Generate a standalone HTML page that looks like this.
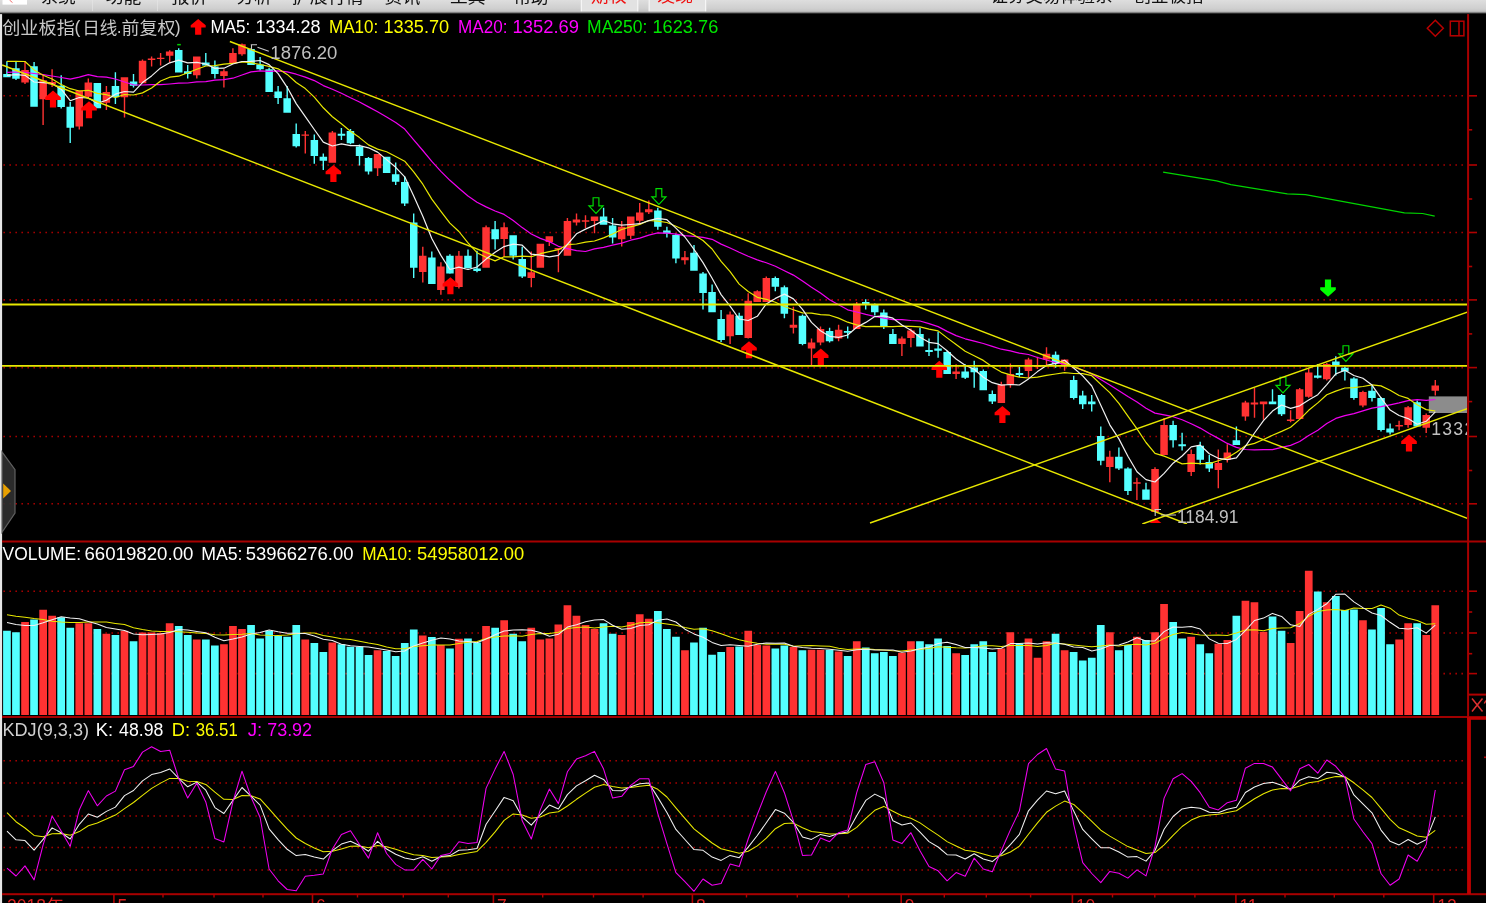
<!DOCTYPE html>
<html><head><meta charset="utf-8"><title>chart</title>
<style>html,body{margin:0;padding:0;background:#000;overflow:hidden}body{width:1486px;height:903px;font-family:"Liberation Sans",sans-serif}svg{display:block;will-change:transform}</style>
</head><body>
<svg width="1486" height="903" viewBox="0 0 1486 903" shape-rendering="geometricPrecision"><rect x="0" y="0" width="1486" height="903" fill="#000"/>
<line x1="3.4" y1="95.8" x2="1464" y2="95.8" stroke="#a40000" stroke-width="1.6" stroke-dasharray="1.6 4.4"/>
<line x1="3.4" y1="165" x2="1464" y2="165" stroke="#a40000" stroke-width="1.6" stroke-dasharray="1.6 4.4"/>
<line x1="3.4" y1="232.5" x2="1464" y2="232.5" stroke="#a40000" stroke-width="1.6" stroke-dasharray="1.6 4.4"/>
<line x1="3.4" y1="299.9" x2="1464" y2="299.9" stroke="#a40000" stroke-width="1.6" stroke-dasharray="1.6 4.4"/>
<line x1="3.4" y1="367.6" x2="1464" y2="367.6" stroke="#a40000" stroke-width="1.6" stroke-dasharray="1.6 4.4"/>
<line x1="3.4" y1="436.5" x2="1464" y2="436.5" stroke="#a40000" stroke-width="1.6" stroke-dasharray="1.6 4.4"/>
<line x1="3.4" y1="503.8" x2="1464" y2="503.8" stroke="#a40000" stroke-width="1.6" stroke-dasharray="1.6 4.4"/>
<line x1="3.4" y1="591.2" x2="1464" y2="591.2" stroke="#a40000" stroke-width="1.6" stroke-dasharray="1.6 4.4"/>
<line x1="3.4" y1="633" x2="1464" y2="633" stroke="#a40000" stroke-width="1.6" stroke-dasharray="1.6 4.4"/>
<line x1="3.4" y1="673.6" x2="1464" y2="673.6" stroke="#a40000" stroke-width="1.6" stroke-dasharray="1.6 4.4"/>
<line x1="3.4" y1="760.7" x2="1464" y2="760.7" stroke="#a40000" stroke-width="1.6" stroke-dasharray="1.6 4.4"/>
<line x1="3.4" y1="783" x2="1464" y2="783" stroke="#a40000" stroke-width="1.6" stroke-dasharray="1.6 4.4"/>
<line x1="3.4" y1="816" x2="1464" y2="816" stroke="#a40000" stroke-width="1.6" stroke-dasharray="1.6 4.4"/>
<line x1="3.4" y1="847.5" x2="1464" y2="847.5" stroke="#a40000" stroke-width="1.6" stroke-dasharray="1.6 4.4"/>
<line x1="3.4" y1="870" x2="1464" y2="870" stroke="#a40000" stroke-width="1.6" stroke-dasharray="1.6 4.4"/>
<clipPath id="mc"><rect x="2" y="14" width="1465" height="510"/></clipPath>
<g clip-path="url(#mc)">
<path d="M3.2 74.1h7.5v3.1h-7.5zM6.2 61.3h1.4v15.9h-1.4zM12.2 68.3h7.5v10.4h-7.5zM15.3 61.3h1.4v18.7h-1.4zM30.3 66.2h7.5v40.6h-7.5zM33.4 61.9h1.4v44.9h-1.4zM57.4 85.7h7.5v21.3h-7.5zM60.5 75.3h1.4v33.2h-1.4zM66.5 106.8h7.5v20.9h-7.5zM69.5 102h1.4v41h-1.4zM93.6 82.9h7.5v25.3h-7.5zM96.6 82.9h1.4v25.3h-1.4zM111.7 86h7.5v11.3h-7.5zM114.7 72.3h1.4v31.7h-1.4zM129.8 81.4h7.5v4.3h-7.5zM132.8 74.1h1.4v13.4h-1.4zM175 50h7.5v22.6h-7.5zM178 48.2h1.4v24.4h-1.4zM184 71.2h7.5v2.7h-7.5zM187 65h1.4v13.6h-1.4zM202.1 62.4h7.5v3h-7.5zM205.1 53h1.4v12.8h-1.4zM211.1 66.5h7.5v7.4h-7.5zM214.2 60.4h1.4v18.2h-1.4zM247.3 48.9h7.5v16h-7.5zM250.3 48.2h1.4v16.7h-1.4zM256.3 64.5h7.5v4.7h-7.5zM259.4 57h1.4v13.5h-1.4zM265.4 69.2h7.5v22.7h-7.5zM268.4 67.8h1.4v24.1h-1.4zM274.4 91.5h7.5v6.5h-7.5zM277.4 86.1h1.4v17.9h-1.4zM283.4 98.2h7.5v14.5h-7.5zM286.5 86.1h1.4v26.6h-1.4zM292.5 134h7.5v12.2h-7.5zM295.5 123.6h1.4v24h-1.4zM310.6 140.1h7.5v16h-7.5zM313.6 134.5h1.4v29.3h-1.4zM319.6 156.8h7.5v4h-7.5zM322.6 153.4h1.4v16.6h-1.4zM337.7 133.8h7.5v2h-7.5zM340.7 128h1.4v12.1h-1.4zM346.7 131h7.5v12.2h-7.5zM349.8 129h1.4v15.3h-1.4zM355.8 146.6h7.5v9.5h-7.5zM358.8 144.6h1.4v20.9h-1.4zM364.8 158.1h7.5v13.5h-7.5zM367.8 157h1.4v17.6h-1.4zM382.9 156.8h7.5v16.2h-7.5zM385.9 156.8h1.4v16.2h-1.4zM391.9 174.3h7.5v7.5h-7.5zM395 162.4h1.4v22.7h-1.4zM401 182h7.5v21.4h-7.5zM404 176.4h1.4v29.7h-1.4zM410 222.4h7.5v45.3h-7.5zM413 213.6h1.4v64.5h-1.4zM428.1 257.6h7.5v26.3h-7.5zM431.1 251.5h1.4v32.4h-1.4zM446.2 255.8h7.5v17.7h-7.5zM449.2 254.2h1.4v19.6h-1.4zM464.2 255.8h7.5v12.3h-7.5zM467.3 249.5h1.4v18.9h-1.4zM473.3 268.5h7.5v2.5h-7.5zM476.3 250.8h1.4v21.4h-1.4zM491.4 229.2h7.5v10.1h-7.5zM494.4 221.1h1.4v28.4h-1.4zM509.4 235.3h7.5v20.5h-7.5zM512.5 235.3h1.4v24.3h-1.4zM518.5 258.9h7.5v17.6h-7.5zM521.5 246.8h1.4v31.3h-1.4zM599.8 216.6h7.5v8.1h-7.5zM602.9 207.8h1.4v16.9h-1.4zM608.9 225.4h7.5v12.2h-7.5zM611.9 218h1.4v25.6h-1.4zM654.1 210.5h7.5v16.3h-7.5zM657.1 207.8h1.4v21.9h-1.4zM663.1 230.5h7.5v3h-7.5zM666.2 226.8h1.4v10.8h-1.4zM672.2 234.9h7.5v23.6h-7.5zM675.2 233.5h1.4v29.7h-1.4zM690.2 252.7h7.5v18h-7.5zM693.3 245h1.4v25.7h-1.4zM699.3 273.5h7.5v19.5h-7.5zM702.3 272h1.4v37.5h-1.4zM708.3 291.9h7.5v20.3h-7.5zM711.4 284.4h1.4v27.8h-1.4zM717.4 318.9h7.5v21h-7.5zM720.4 310.1h1.4v31.8h-1.4zM735.4 315.8h7.5v19.3h-7.5zM738.5 312.8h1.4v22.3h-1.4zM771.6 278h7.5v8.8h-7.5zM774.6 276.4h1.4v14.8h-1.4zM780.6 287.2h7.5v26.6h-7.5zM783.7 285.4h1.4v32.8h-1.4zM798.7 315.8h7.5v28.1h-7.5zM801.8 314.5h1.4v30.8h-1.4zM825.8 331.1h7.5v10.1h-7.5zM828.9 327.7h1.4v14.9h-1.4zM843.9 331.1h7.5v1.6h-7.5zM847 326.4h1.4v12.1h-1.4zM862 302h7.5v2.5h-7.5zM865 299.3h1.4v10.2h-1.4zM871 304.9h7.5v7.4h-7.5zM874.1 303.5h1.4v11.9h-1.4zM880.1 312.5h7.5v13.9h-7.5zM883.1 309.5h1.4v19.5h-1.4zM889.1 334h7.5v9.9h-7.5zM892.2 329h1.4v14.9h-1.4zM916.2 334h7.5v12.6h-7.5zM919.3 327.7h1.4v18.9h-1.4zM925.3 350h7.5v2h-7.5zM928.3 338.5h1.4v17.6h-1.4zM934.3 348.6h7.5v2.1h-7.5zM937.4 331.8h1.4v26h-1.4zM943.4 352h7.5v22h-7.5zM946.4 351h1.4v23h-1.4zM961.4 371.6h7.5v6.1h-7.5zM964.5 364.2h1.4v14.8h-1.4zM970.5 367.6h7.5v4.7h-7.5zM973.5 360.8h1.4v27h-1.4zM979.5 370.9h7.5v19.4h-7.5zM982.6 369.6h1.4v20.7h-1.4zM988.6 393.9h7.5v7.5h-7.5zM991.6 390.5h1.4v13.5h-1.4zM1015.7 373h7.5v2h-7.5zM1018.7 366.9h1.4v10.1h-1.4zM1051.8 354.7h7.5v9.2h-7.5zM1054.9 351.6h1.4v16.2h-1.4zM1069.9 380.1h7.5v18h-7.5zM1073 375.8h1.4v23.7h-1.4zM1079 395.4h7.5v8.8h-7.5zM1082 390.7h1.4v18.2h-1.4zM1088 401.5h7.5v2.7h-7.5zM1091 395.1h1.4v16.5h-1.4zM1097 436h7.5v24.7h-7.5zM1100.1 426.6h1.4v38.7h-1.4zM1115.1 456.8h7.5v11.6h-7.5zM1118.2 447.6h1.4v22.4h-1.4zM1124.2 468.6h7.5v22.4h-7.5zM1127.2 467.3h1.4v27.7h-1.4zM1142.2 489.6h7.5v10.1h-7.5zM1145.3 482.8h1.4v16.9h-1.4zM1169.4 425.1h7.5v15.1h-7.5zM1172.4 420.7h1.4v26.9h-1.4zM1178.4 444.2h7.5v2h-7.5zM1181.4 432.7h1.4v17.9h-1.4zM1196.5 445.8h7.5v14h-7.5zM1199.5 441.8h1.4v22.8h-1.4zM1205.5 461.9h7.5v6.7h-7.5zM1208.6 454.9h1.4v17.1h-1.4zM1232.6 440.2h7.5v4.7h-7.5zM1235.7 426.6h1.4v18.3h-1.4zM1268.8 401.5h7.5v2.7h-7.5zM1271.8 389.3h1.4v14.9h-1.4zM1277.8 395.1h7.5v19.2h-7.5zM1280.9 394h1.4v22h-1.4zM1314 375.4h7.5v2.4h-7.5zM1317 364h1.4v14.5h-1.4zM1332.1 361.6h7.5v4.4h-7.5zM1335.1 356.2h1.4v19.2h-1.4zM1341.1 367.7h7.5v3.7h-7.5zM1344.2 366.4h1.4v14.1h-1.4zM1350.2 378.5h7.5v19.6h-7.5zM1353.2 377.2h1.4v22.5h-1.4zM1368.2 390.7h7.5v7.4h-7.5zM1371.3 385.9h1.4v15.6h-1.4zM1377.3 398.1h7.5v31.8h-7.5zM1380.3 397h1.4v34.6h-1.4zM1386.3 428.5h7.5v4.1h-7.5zM1389.4 423.5h1.4v11.1h-1.4zM1413.4 402.2h7.5v24.3h-7.5zM1416.5 400.6h1.4v26.2h-1.4z" fill="#54ffff"/>
<path d="M21.3 69.9h7.5v12.7h-7.5zM24.3 61.3h1.4v22.8h-1.4zM39.4 80.2h7.5v19.1h-7.5zM42.4 75.3h1.4v49.6h-1.4zM48.4 82h7.5v2.5h-7.5zM51.4 69.2h1.4v17.7h-1.4zM75.5 90.6h7.5v35.9h-7.5zM78.6 90.6h1.4v39h-1.4zM84.6 82.6h7.5v14.1h-7.5zM87.6 78.4h1.4v19.5h-1.4zM102.6 92.1h7.5v10.6h-7.5zM105.7 86h1.4v24h-1.4zM120.7 77.2h7.5v20.1h-7.5zM123.8 77.2h1.4v40.2h-1.4zM138.8 60.7h7.5v22.6h-7.5zM141.8 59.5h1.4v23.8h-1.4zM147.8 58.4h7.5v1.6h-7.5zM150.9 56.4h1.4v10.1h-1.4zM156.9 57.7h7.5v1.3h-7.5zM159.9 53h1.4v12.4h-1.4zM165.9 51.6h7.5v4.1h-7.5zM169 50.3h1.4v12.1h-1.4zM193 56.4h7.5v18.9h-7.5zM196.1 56.4h1.4v22.2h-1.4zM220.2 71.2h7.5v4.8h-7.5zM223.2 69.2h1.4v18.2h-1.4zM229.2 53h7.5v10.1h-7.5zM232.2 48.2h1.4v14.9h-1.4zM238.2 44.2h7.5v10.1h-7.5zM241.3 43.5h1.4v12.2h-1.4zM301.5 134.5h7.5v1.3h-7.5zM304.6 131h1.4v22.4h-1.4zM328.6 132.4h7.5v30.4h-7.5zM331.7 131h1.4v31.8h-1.4zM373.8 154h7.5v14.2h-7.5zM376.9 154h1.4v22h-1.4zM419 255.8h7.5v16.2h-7.5zM422.1 246.8h1.4v35.8h-1.4zM437.1 266.4h7.5v23.6h-7.5zM440.2 262.3h1.4v32.4h-1.4zM455.2 255.8h7.5v31.2h-7.5zM458.2 251.1h1.4v37.5h-1.4zM482.3 227.2h7.5v40.5h-7.5zM485.4 225.4h1.4v42.3h-1.4zM500.4 227.2h7.5v11.7h-7.5zM503.4 222.4h1.4v34.5h-1.4zM527.5 272.2h7.5v5.9h-7.5zM530.6 251.5h1.4v35.8h-1.4zM536.6 243.8h7.5v23.9h-7.5zM539.6 243.8h1.4v23.9h-1.4zM545.6 236.2h7.5v5.8h-7.5zM548.6 236.2h1.4v9.9h-1.4zM554.6 248.1h7.5v1.5h-7.5zM557.7 248.1h1.4v24.1h-1.4zM563.7 221.1h7.5v34.7h-7.5zM566.7 218.1h1.4v37.7h-1.4zM572.7 219.6h7.5v2.9h-7.5zM575.8 213.5h1.4v12.1h-1.4zM581.8 220.3h7.5v1.4h-7.5zM584.8 215.2h1.4v12.9h-1.4zM590.8 216.6h7.5v4.5h-7.5zM593.8 216.6h1.4v16.6h-1.4zM617.9 226.8h7.5v12.4h-7.5zM621 221.1h1.4v25.3h-1.4zM627 216.6h7.5v19.2h-7.5zM630 216.6h1.4v22.3h-1.4zM636 212.6h7.5v8.1h-7.5zM639 203.1h1.4v20.3h-1.4zM645 209.2h7.5v3h-7.5zM648.1 200.4h1.4v13.5h-1.4zM681.2 257.2h7.5v3.1h-7.5zM684.2 251.1h1.4v13.5h-1.4zM726.4 314.6h7.5v21.6h-7.5zM729.4 311.5h1.4v32.4h-1.4zM744.5 300.7h7.5v37.4h-7.5zM747.5 293.2h1.4v45.3h-1.4zM753.5 291.2h7.5v10.8h-7.5zM756.6 290.3h1.4v11.7h-1.4zM762.6 278h7.5v24h-7.5zM765.6 276.6h1.4v25.4h-1.4zM789.7 324.7h7.5v3h-7.5zM792.7 306.8h1.4v26.7h-1.4zM807.8 342.6h7.5v6h-7.5zM810.8 338.5h1.4v27.5h-1.4zM816.8 329h7.5v13.6h-7.5zM819.8 326.4h1.4v18.9h-1.4zM834.9 329.7h7.5v8.8h-7.5zM837.9 324.7h1.4v16.5h-1.4zM853 303.8h7.5v25.2h-7.5zM856 302h1.4v27h-1.4zM898.2 338.5h7.5v5.4h-7.5zM901.2 336.5h1.4v19.6h-1.4zM907.2 330.4h7.5v7.7h-7.5zM910.2 328.4h1.4v18.9h-1.4zM952.4 371.6h7.5v2.4h-7.5zM955.4 364.2h1.4v14.8h-1.4zM997.6 384.5h7.5v18.5h-7.5zM1000.6 381.8h1.4v21.2h-1.4zM1006.6 374h7.5v10.5h-7.5zM1009.7 363.5h1.4v24.3h-1.4zM1024.7 359.5h7.5v11.4h-7.5zM1027.8 357.8h1.4v19.9h-1.4zM1033.8 364.9h7.5v2h-7.5zM1036.8 356.8h1.4v12.1h-1.4zM1042.8 353.8h7.5v5.7h-7.5zM1045.8 347.3h1.4v18.9h-1.4zM1060.9 359.5h7.5v5.3h-7.5zM1063.9 359.5h1.4v11.2h-1.4zM1106.1 456.8h7.5v10.2h-7.5zM1109.1 450.8h1.4v31.4h-1.4zM1133.2 482.2h7.5v1.6h-7.5zM1136.2 477.8h1.4v22.2h-1.4zM1151.3 468.9h7.5v43h-7.5zM1154.3 467.3h1.4v44.6h-1.4zM1160.3 425.1h7.5v29.8h-7.5zM1163.4 418h1.4v36.9h-1.4zM1187.4 454h7.5v18h-7.5zM1190.5 449.5h1.4v26.6h-1.4zM1214.6 463h7.5v7h-7.5zM1217.6 449.5h1.4v38.7h-1.4zM1223.6 452.5h7.5v7.3h-7.5zM1226.6 444.2h1.4v18.4h-1.4zM1241.7 402.4h7.5v14h-7.5zM1244.7 400.8h1.4v20h-1.4zM1250.7 402.4h7.5v2.1h-7.5zM1253.8 388h1.4v29.7h-1.4zM1259.8 401.5h7.5v2.7h-7.5zM1262.8 401.5h1.4v18.2h-1.4zM1286.9 419.5h7.5v1.5h-7.5zM1289.9 410.3h1.4v11.9h-1.4zM1295.9 389.3h7.5v29.7h-7.5zM1299 388h1.4v31h-1.4zM1305 372.4h7.5v24.4h-7.5zM1308 368.4h1.4v29.4h-1.4zM1323 364h7.5v15.2h-7.5zM1326.1 363h1.4v17.5h-1.4zM1359.2 392h7.5v13.5h-7.5zM1362.2 390.7h1.4v16.6h-1.4zM1395.4 424.9h7.5v1.6h-7.5zM1398.4 420.8h1.4v9.5h-1.4zM1404.4 407.3h7.5v17.8h-7.5zM1407.4 406h1.4v21.8h-1.4zM1422.5 415h7.5v12.8h-7.5zM1425.5 413.6h1.4v19.4h-1.4zM1431.5 385.6h7.5v5.2h-7.5zM1434.6 380.1h1.4v15.3h-1.4z" fill="#ff3232"/>
</g>
<path d="M53 90.6L60.8 97.2v2.7H56.1V107.6H49.9V99.9H45.2v-2.7z" fill="#ff0000"/>
<path d="M89 101.3L96.8 107.9v2.7H92.1V118.3H85.9V110.6H81.2v-2.7z" fill="#ff0000"/>
<path d="M333.4 164.9L341.1 171.5v2.7H336.5V181.9H330.3V174.2H325.6v-2.7z" fill="#ff0000"/>
<path d="M450.4 277.2L458.1 283.8v2.7H453.5V294.2H447.3V286.5H442.6v-2.7z" fill="#ff0000"/>
<path d="M749 341.2L756.8 347.8v2.7H752.1V358.2H745.9V350.5H741.2v-2.7z" fill="#ff0000"/>
<path d="M820.8 348.6L828.5 355.2v2.7H823.9V365.6H817.7V357.9H813v-2.7z" fill="#ff0000"/>
<path d="M939.3 360.8L947 367.4v2.7H942.4V377.8H936.2V370.1H931.5v-2.7z" fill="#ff0000"/>
<path d="M1002.4 406L1010.1 412.6v2.7H1005.5V423H999.3V415.3H994.6v-2.7z" fill="#ff0000"/>
<path d="M1409 434.6L1416.8 441.2v2.7H1412.1V451.6H1405.9V443.9H1401.2v-2.7z" fill="#ff0000"/>
<clipPath id="c128"><rect x="1140" y="500" width="40" height="23"/></clipPath>
<g clip-path="url(#c128)">
<path d="M1155.4 518L1163.2 524.6v2.7H1158.5V535H1152.3V527.3H1147.7v-2.7z" fill="#ff0000"/>
</g>
<path d="M593.1 197.7H598.9V205.9H603.1L596 213.5L588.9 205.9H593.1z" fill="none" stroke="#00e000" stroke-width="1.15"/>
<path d="M656 188.6H661.8V196.8H666L658.9 204.4L651.8 196.8H656z" fill="none" stroke="#00e000" stroke-width="1.15"/>
<path d="M1280.1 377.2H1285.9V385.4H1290.1L1283 393L1275.9 385.4H1280.1z" fill="none" stroke="#00e000" stroke-width="1.15"/>
<path d="M1343 345.7H1348.8V353.9H1353L1345.9 361.5L1338.8 353.9H1343z" fill="none" stroke="#00e000" stroke-width="1.15"/>
<path d="M1324.9 279.6H1331.1V287.2H1335.8v2.6L1328 296.8L1320.2 289.8v-2.6H1324.9z" fill="#00ff00"/>
<rect x="177.2" y="43.9" width="3.6" height="1.5" fill="#00d000"/>
<g clip-path="url(#mc)">
<rect x="1428.8" y="396.4" width="38.4" height="16.6" fill="#8c8c8c"/>
<rect x="1430.4" y="416" width="36.8" height="22" fill="#000"/>
<path d="M7 72.4 L16 72 L25 72.3 L34.1 73.5 L43.1 74.7 L52.1 76 L61.2 77.5 L70.2 79.2 L79.3 77.2 L88.3 74.7 L97.3 76.6 L106.4 77.2 L115.4 79 L124.5 82 L133.5 84.8 L142.5 85 L151.6 84.7 L160.6 84.7 L169.7 84 L178.7 83.2 L187.7 83 L196.8 81.9 L205.8 81.7 L214.9 80.1 L223.9 79.6 L232.9 78.2 L242 75 L251 71.9 L260.1 70.8 L269.1 71.3 L278.1 70.8 L287.2 71.8 L296.2 74.2 L305.3 77.1 L314.3 80.6 L323.3 85.6 L332.4 89.3 L341.4 93.2 L350.5 97.8 L359.5 102 L368.5 106.9 L377.6 111.8 L386.6 117.1 L395.7 122.5 L404.7 129.1 L413.7 139.9 L422.8 150.5 L431.8 161.4 L440.9 171.3 L449.9 180.3 L458.9 188.2 L468 196 L477 202.2 L486.1 206.9 L495.1 211 L504.1 214.4 L513.2 220.5 L522.2 227.6 L531.3 234 L540.3 238.4 L549.4 241.6 L558.4 246.3 L567.4 248.7 L576.5 250.6 L585.5 251.5 L594.5 248.9 L603.6 247.4 L612.6 245.1 L621.7 243.1 L630.7 240.2 L639.8 238.1 L648.8 235.1 L657.8 232.9 L666.9 233.2 L675.9 234.2 L684.9 235.7 L694 236.4 L703 237.3 L712.1 239.3 L721.1 244.1 L730.1 248 L739.2 252.3 L748.2 256.3 L757.3 259.9 L766.3 262.8 L775.4 266.3 L784.4 270.7 L793.4 275.1 L802.5 280.9 L811.5 287.2 L820.5 293.1 L829.6 299.7 L838.6 304.8 L847.7 309.8 L856.7 312 L865.8 314.4 L874.8 316.5 L883.8 318.2 L892.9 319.7 L901.9 319.7 L910.9 320.5 L920 321 L929 323.6 L938.1 326.6 L947.1 331.4 L956.1 335.6 L965.2 338.8 L974.2 341.2 L983.3 343.5 L992.3 346.4 L1001.3 349.2 L1010.4 350.9 L1019.4 353.1 L1028.5 354.5 L1037.5 357.5 L1046.5 360 L1055.6 362.6 L1064.6 364.2 L1073.7 366.9 L1082.7 370.2 L1091.8 373.9 L1100.8 379.6 L1109.8 384.9 L1118.9 390.7 L1127.9 396.6 L1137 402.1 L1146 408.2 L1155 413.1 L1164.1 414.8 L1173.1 416.7 L1182.1 419.8 L1191.2 423.8 L1200.2 428.1 L1209.3 433.5 L1218.3 438.4 L1227.3 443.4 L1236.4 447.4 L1245.4 449.5 L1254.5 449.8 L1263.5 449.6 L1272.5 449.6 L1281.6 447.3 L1290.6 445.4 L1299.7 441.5 L1308.7 435.6 L1317.8 430.3 L1326.8 423.6 L1335.8 418.4 L1344.9 415.7 L1353.9 413.6 L1362.9 410.9 L1372 408.1 L1381 406.6 L1390.1 404.8 L1399.1 402.9 L1408.1 400.6 L1417.2 399.7 L1426.2 400.4 L1435.3 399.5" fill="none" stroke="#f000f0" stroke-width="1.2" stroke-linejoin="round" />
<path d="M7 61.3 L16 61.3 L25 61.5 L34.1 69.9 L43.1 75.3 L52.1 79 L61.2 84.5 L70.2 88.7 L79.3 91 L88.3 90.3 L97.3 93.4 L106.4 94.7 L115.4 97.5 L124.5 94.5 L133.5 95 L142.5 92.9 L151.6 88 L160.6 81 L169.7 77.2 L178.7 76.2 L187.7 72.7 L196.8 69.2 L205.8 66 L214.9 65.6 L223.9 64.2 L232.9 63.4 L242 62 L251 62.7 L260.1 64.5 L269.1 66.4 L278.1 68.8 L287.2 74.4 L296.2 82.5 L305.3 88.6 L314.3 97.1 L323.3 107.8 L332.4 116.7 L341.4 123.8 L350.5 131.2 L359.5 137.6 L368.5 144.9 L377.6 149.1 L386.6 151.8 L395.7 156.5 L404.7 161.2 L413.7 171.9 L422.8 184.2 L431.8 199.1 L440.9 211.4 L449.9 223.1 L458.9 231.5 L468 242.9 L477 252.7 L486.1 257.3 L495.1 260.9 L504.1 256.8 L513.2 256.8 L522.2 256.1 L531.3 256.7 L540.3 253.7 L549.4 251.7 L558.4 249.7 L567.4 244.7 L576.5 244 L585.5 242.1 L594.5 241 L603.6 237.9 L612.6 234 L621.7 229.5 L630.7 226.8 L639.8 224.4 L648.8 220.5 L657.8 221.1 L666.9 222.5 L675.9 226.3 L684.9 230.3 L694 234.9 L703 240.5 L712.1 249 L721.1 261.4 L730.1 271.6 L739.2 284.1 L748.2 291.5 L757.3 297.3 L766.3 299.3 L775.4 302.2 L784.4 306.5 L793.4 309.7 L802.5 312.9 L811.5 313.1 L820.5 314.6 L829.6 315.2 L838.6 318.1 L847.7 322.2 L856.7 324.8 L865.8 326.6 L874.8 326.4 L883.8 326.6 L892.9 326.6 L901.9 326.2 L910.9 326.3 L920 326.9 L929 329.1 L938.1 330.9 L947.1 337.9 L956.1 344.6 L965.2 351.2 L974.2 355.8 L983.3 360.4 L992.3 366.7 L1001.3 372.1 L1010.4 374.9 L1019.4 377.1 L1028.5 378 L1037.5 377.1 L1046.5 375.3 L1055.6 374 L1064.6 372.7 L1073.7 373.5 L1082.7 373.7 L1091.8 375.7 L1100.8 384.4 L1109.8 392.6 L1118.9 403.4 L1127.9 416.1 L1137 428.9 L1146 442.5 L1155 453.4 L1164.1 456.1 L1173.1 459.7 L1182.1 463.9 L1191.2 463.2 L1200.2 463.6 L1209.3 463.6 L1218.3 460.8 L1227.3 457.8 L1236.4 452.3 L1245.4 445.7 L1254.5 443.4 L1263.5 439.5 L1272.5 435.3 L1281.6 431.4 L1290.6 427.3 L1299.7 419.4 L1308.7 410.3 L1317.8 402.9 L1326.8 394.8 L1335.8 391.1 L1344.9 388 L1353.9 387.7 L1362.9 386.5 L1372 384.9 L1381 385.9 L1390.1 390.2 L1399.1 395.5 L1408.1 398.4 L1417.2 404.7 L1426.2 409.6 L1435.3 411" fill="none" stroke="#e8e800" stroke-width="1.2" stroke-linejoin="round" />
<path d="M7 75.3 L16 74.7 L25 75.3 L34.1 82 L43.1 82.6 L52.1 83.5 L61.2 89.2 L70.2 100.7 L79.3 97.5 L88.3 98 L97.3 103.2 L106.4 100.2 L115.4 94.2 L124.5 91.5 L133.5 92.1 L142.5 82.6 L151.6 75.9 L160.6 67.9 L169.7 62.8 L178.7 60.2 L187.7 62.8 L196.8 62.4 L205.8 64 L214.9 68.4 L223.9 68.2 L232.9 64 L242 61.5 L251 61.4 L260.1 60.5 L269.1 64.6 L278.1 73.6 L287.2 87.3 L296.2 103.6 L305.3 116.7 L314.3 129.5 L323.3 142.1 L332.4 146 L341.4 143.9 L350.5 145.7 L359.5 145.7 L368.5 147.8 L377.6 152.1 L386.6 159.6 L395.7 167.3 L404.7 176.8 L413.7 196 L422.8 216.3 L431.8 238.5 L440.9 255.4 L449.9 269.5 L458.9 267.1 L468 269.5 L477 267 L486.1 259.1 L495.1 252.3 L504.1 246.6 L513.2 244.1 L522.2 245.2 L531.3 254.2 L540.3 255.1 L549.4 256.9 L558.4 255.4 L567.4 244.3 L576.5 233.8 L585.5 229.1 L594.5 225.1 L603.6 220.5 L612.6 223.8 L621.7 225.2 L630.7 224.5 L639.8 223.7 L648.8 220.6 L657.8 218.4 L666.9 219.7 L675.9 228.1 L684.9 237 L694 249.3 L703 262.6 L712.1 278.3 L721.1 294.6 L730.1 306.1 L739.2 319 L748.2 320.5 L757.3 316.3 L766.3 303.9 L775.4 298.4 L784.4 294.1 L793.4 298.9 L802.5 309.4 L811.5 322.4 L820.5 330.8 L829.6 336.3 L838.6 337.3 L847.7 335 L856.7 327.3 L865.8 322.4 L874.8 316.6 L883.8 315.9 L892.9 318.2 L901.9 325.1 L910.9 330.3 L920 337.2 L929 342.3 L938.1 343.6 L947.1 350.7 L956.1 359 L965.2 365.2 L974.2 369.3 L983.3 377.2 L992.3 382.7 L1001.3 385.2 L1010.4 384.5 L1019.4 385 L1028.5 378.9 L1037.5 371.6 L1046.5 365.4 L1055.6 363.4 L1064.6 360.3 L1073.7 368 L1082.7 375.9 L1091.8 386 L1100.8 405.3 L1109.8 424.8 L1118.9 438.9 L1127.9 456.2 L1137 471.8 L1146 479.6 L1155 482 L1164.1 473.4 L1173.1 463.2 L1182.1 456 L1191.2 446.9 L1200.2 445.1 L1209.3 453.8 L1218.3 458.3 L1227.3 459.6 L1236.4 457.8 L1245.4 446.3 L1254.5 433 L1263.5 420.7 L1272.5 411.1 L1281.6 405 L1290.6 408.4 L1299.7 405.8 L1308.7 399.9 L1317.8 394.7 L1326.8 384.6 L1335.8 373.9 L1344.9 370.3 L1353.9 375.5 L1362.9 378.3 L1372 385.1 L1381 397.9 L1390.1 410.1 L1399.1 415.5 L1408.1 418.6 L1417.2 424.2 L1426.2 421.3 L1435.3 411.9" fill="none" stroke="#f0f0f0" stroke-width="1.2" stroke-linejoin="round" />
<path d="M1163.1 172.1 L1216.6 180.8 L1230.8 184.6 L1287.3 193.9 L1305.5 194.7 L1404.4 212.9 L1422.6 213.5 L1434.7 216.1" fill="none" stroke="#00d400" stroke-width="1.25" stroke-linejoin="round" />
<line x1="2" y1="304.5" x2="1467" y2="304.5" stroke="#e8e800" stroke-width="1.8"/>
<line x1="2" y1="365.8" x2="1467" y2="365.8" stroke="#e8e800" stroke-width="1.8"/>
<line x1="229.9" y1="41.5" x2="1467.7" y2="518.5" stroke="#e8e800" stroke-width="1.45"/>
<line x1="2.2" y1="65" x2="1187" y2="524" stroke="#e8e800" stroke-width="1.45"/>
<line x1="870" y1="523" x2="1467.7" y2="312" stroke="#e8e800" stroke-width="1.45"/>
<line x1="1142.3" y1="524" x2="1467.7" y2="408.5" stroke="#e8e800" stroke-width="1.45"/>
</g>
<path d="M3.1 630.8h7.7V715h-7.7zM12.1 632.2h7.7V715h-7.7zM30.2 619.5h7.7V715h-7.7zM57.3 617.3h7.7V715h-7.7zM66.4 627.8h7.7V715h-7.7zM93.5 629.1h7.7V715h-7.7zM111.6 635h7.7V715h-7.7zM129.7 641.3h7.7V715h-7.7zM174.9 626.1h7.7V715h-7.7zM183.9 635h7.7V715h-7.7zM202 639.6h7.7V715h-7.7zM211 645.6h7.7V715h-7.7zM247.2 624.9h7.7V715h-7.7zM256.2 638.4h7.7V715h-7.7zM265.3 630.8h7.7V715h-7.7zM274.3 635.9h7.7V715h-7.7zM283.3 636.7h7.7V715h-7.7zM292.4 624.9h7.7V715h-7.7zM310.5 642.9h7.7V715h-7.7zM319.5 651.9h7.7V715h-7.7zM337.6 644.3h7.7V715h-7.7zM346.6 646.8h7.7V715h-7.7zM355.7 646.8h7.7V715h-7.7zM364.7 654.9h7.7V715h-7.7zM382.8 651h7.7V715h-7.7zM391.8 656.1h7.7V715h-7.7zM400.9 642.9h7.7V715h-7.7zM409.9 629.5h7.7V715h-7.7zM428 637h7.7V715h-7.7zM446.1 648.5h7.7V715h-7.7zM464.1 638.4h7.7V715h-7.7zM473.2 642.6h7.7V715h-7.7zM491.3 627.8h7.7V715h-7.7zM509.3 633.8h7.7V715h-7.7zM518.4 641.3h7.7V715h-7.7zM599.7 623.2h7.7V715h-7.7zM608.8 633.8h7.7V715h-7.7zM654 611.1h7.7V715h-7.7zM663 629.1h7.7V715h-7.7zM672.1 636.7h7.7V715h-7.7zM690.1 642.6h7.7V715h-7.7zM699.2 627.8h7.7V715h-7.7zM708.2 654.7h7.7V715h-7.7zM717.3 651.9h7.7V715h-7.7zM735.3 646.5h7.7V715h-7.7zM771.5 648.5h7.7V715h-7.7zM780.5 645.5h7.7V715h-7.7zM798.6 650.2h7.7V715h-7.7zM825.7 649.7h7.7V715h-7.7zM843.8 656.1h7.7V715h-7.7zM861.9 647.6h7.7V715h-7.7zM870.9 653.2h7.7V715h-7.7zM880 651.9h7.7V715h-7.7zM889 656.1h7.7V715h-7.7zM916.1 641.3h7.7V715h-7.7zM925.2 644.3h7.7V715h-7.7zM934.2 638.4h7.7V715h-7.7zM943.3 646h7.7V715h-7.7zM961.3 654.9h7.7V715h-7.7zM970.4 644.3h7.7V715h-7.7zM979.4 641.3h7.7V715h-7.7zM988.5 651.9h7.7V715h-7.7zM1015.6 643.8h7.7V715h-7.7zM1051.7 633.8h7.7V715h-7.7zM1069.8 651.9h7.7V715h-7.7zM1078.9 660.6h7.7V715h-7.7zM1087.9 657.8h7.7V715h-7.7zM1096.9 624.9h7.7V715h-7.7zM1115 650.2h7.7V715h-7.7zM1124.1 645.1h7.7V715h-7.7zM1142.1 640.1h7.7V715h-7.7zM1169.3 621.9h7.7V715h-7.7zM1178.3 638.4h7.7V715h-7.7zM1196.4 644.3h7.7V715h-7.7zM1205.4 653.2h7.7V715h-7.7zM1232.5 615.7h7.7V715h-7.7zM1268.7 616.5h7.7V715h-7.7zM1277.7 630.8h7.7V715h-7.7zM1313.9 591.6h7.7V715h-7.7zM1332 596h7.7V715h-7.7zM1341 610.1h7.7V715h-7.7zM1350.1 609.4h7.7V715h-7.7zM1368.1 629.5h7.7V715h-7.7zM1377.2 608.1h7.7V715h-7.7zM1386.2 644.3h7.7V715h-7.7zM1413.3 623.2h7.7V715h-7.7z" fill="#54ffff"/>
<path d="M21.2 621.9h7.7V715h-7.7zM39.3 609.8h7.7V715h-7.7zM48.3 615.7h7.7V715h-7.7zM75.4 623.2h7.7V715h-7.7zM84.5 623.2h7.7V715h-7.7zM102.5 633.8h7.7V715h-7.7zM120.6 630.8h7.7V715h-7.7zM138.7 632.5h7.7V715h-7.7zM147.7 632.5h7.7V715h-7.7zM156.8 633h7.7V715h-7.7zM165.8 623.2h7.7V715h-7.7zM192.9 639.6h7.7V715h-7.7zM220.1 644.3h7.7V715h-7.7zM229.1 626.1h7.7V715h-7.7zM238.1 629.1h7.7V715h-7.7zM301.4 639.6h7.7V715h-7.7zM328.5 642.6h7.7V715h-7.7zM373.7 650.2h7.7V715h-7.7zM418.9 635.4h7.7V715h-7.7zM437 645.1h7.7V715h-7.7zM455.1 638.7h7.7V715h-7.7zM482.2 626.1h7.7V715h-7.7zM500.3 620.2h7.7V715h-7.7zM527.4 627.8h7.7V715h-7.7zM536.5 639.6h7.7V715h-7.7zM545.5 638.4h7.7V715h-7.7zM554.5 624.6h7.7V715h-7.7zM563.6 605.2h7.7V715h-7.7zM572.6 615.7h7.7V715h-7.7zM581.7 624.9h7.7V715h-7.7zM590.7 629.1h7.7V715h-7.7zM617.8 635h7.7V715h-7.7zM626.9 621.9h7.7V715h-7.7zM635.9 614.3h7.7V715h-7.7zM644.9 618.7h7.7V715h-7.7zM681.1 650.2h7.7V715h-7.7zM726.3 647.1h7.7V715h-7.7zM744.4 630.8h7.7V715h-7.7zM753.4 645.1h7.7V715h-7.7zM762.5 645.5h7.7V715h-7.7zM789.6 647.1h7.7V715h-7.7zM807.7 649.7h7.7V715h-7.7zM816.7 649.7h7.7V715h-7.7zM834.8 651.5h7.7V715h-7.7zM852.9 641.3h7.7V715h-7.7zM898.1 652.7h7.7V715h-7.7zM907.1 641.3h7.7V715h-7.7zM952.3 653.2h7.7V715h-7.7zM997.5 648.5h7.7V715h-7.7zM1006.5 632.2h7.7V715h-7.7zM1024.6 638.4h7.7V715h-7.7zM1033.7 657.8h7.7V715h-7.7zM1042.7 641.3h7.7V715h-7.7zM1060.8 650.2h7.7V715h-7.7zM1106 632.2h7.7V715h-7.7zM1133.1 636.7h7.7V715h-7.7zM1151.2 632.2h7.7V715h-7.7zM1160.2 603.9h7.7V715h-7.7zM1187.3 636.7h7.7V715h-7.7zM1214.5 643.8h7.7V715h-7.7zM1223.5 640.1h7.7V715h-7.7zM1241.6 600.8h7.7V715h-7.7zM1250.6 602.2h7.7V715h-7.7zM1259.7 631.7h7.7V715h-7.7zM1286.8 642.9h7.7V715h-7.7zM1295.8 611.1h7.7V715h-7.7zM1304.9 570.7h7.7V715h-7.7zM1322.9 602.2h7.7V715h-7.7zM1359.1 620.2h7.7V715h-7.7zM1395.3 639.6h7.7V715h-7.7zM1404.3 623.2h7.7V715h-7.7zM1422.4 635h7.7V715h-7.7zM1431.4 605.2h7.7V715h-7.7z" fill="#ff3232"/>
<path d="M7 614.7 L16 616.2 L25 617.2 L34.1 618.5 L43.1 619.5 L52.1 621.2 L61.2 622 L70.2 622.5 L79.3 622.6 L88.3 622.1 L97.3 622 L106.4 622.1 L115.4 623.4 L124.5 624.6 L133.5 627.7 L142.5 629.4 L151.6 630.9 L160.6 631.4 L169.7 631.4 L178.7 631.7 L187.7 632.3 L196.8 632.9 L205.8 633.4 L214.9 634.8 L223.9 635.1 L232.9 634.5 L242 634.2 L251 633.4 L260.1 634.9 L269.1 635.3 L278.1 635.4 L287.2 635.1 L296.2 633.7 L305.3 633.1 L314.3 632.9 L323.3 635.5 L332.4 636.9 L341.4 638.8 L350.5 639.6 L359.5 641.2 L368.5 643.1 L377.6 644.5 L386.6 647.1 L395.7 648.8 L404.7 648.8 L413.7 646.5 L422.8 645.8 L431.8 645.1 L440.9 644.9 L449.9 645.1 L458.9 643.4 L468 642.3 L477 641.4 L486.1 638.4 L495.1 636.9 L504.1 636 L513.2 635.8 L522.2 636.2 L531.3 634.5 L540.3 633.6 L549.4 633.6 L558.4 632.2 L567.4 628.5 L576.5 627.4 L585.5 627.1 L594.5 628 L603.6 627 L612.6 626.2 L621.7 627 L630.7 625.2 L639.8 622.8 L648.8 622.2 L657.8 622.8 L666.9 624.1 L675.9 625.3 L684.9 627.4 L694 629.3 L703 628.7 L712.1 630.7 L721.1 633.7 L730.1 637 L739.2 639.8 L748.2 641.7 L757.3 643.3 L766.3 644.2 L775.4 644 L784.4 644.3 L793.4 646.3 L802.5 645.8 L811.5 645.6 L820.5 645.9 L829.6 646.2 L838.6 648.2 L847.7 649.4 L856.7 648.9 L865.8 648.8 L874.8 649.6 L883.8 650.1 L892.9 650.7 L901.9 651 L910.9 650.1 L920 649.3 L929 648.6 L938.1 646.8 L947.1 647.3 L956.1 647.8 L965.2 648 L974.2 647.2 L983.3 645.8 L992.3 645.7 L1001.3 646.4 L1010.4 645.5 L1019.4 645.5 L1028.5 645.5 L1037.5 646.6 L1046.5 645.4 L1055.6 643.3 L1064.6 643.9 L1073.7 645 L1082.7 645.9 L1091.8 646.8 L1100.8 646 L1109.8 644.9 L1118.9 646.1 L1127.9 644.8 L1137 644.3 L1146 645 L1155 643.2 L1164.1 638.4 L1173.1 634.5 L1182.1 632.6 L1191.2 633.7 L1200.2 635 L1209.3 635.2 L1218.3 635.1 L1227.3 635.5 L1236.4 633 L1245.4 629.9 L1254.5 629.7 L1263.5 630.7 L1272.5 628.5 L1281.6 627.9 L1290.6 627.8 L1299.7 623.6 L1308.7 616.2 L1317.8 611.4 L1326.8 610 L1335.8 609.6 L1344.9 610.4 L1353.9 608.1 L1362.9 608.5 L1372 608.4 L1381 604.9 L1390.1 608.2 L1399.1 615.1 L1408.1 618.3 L1417.2 620.4 L1426.2 624.3 L1435.3 623.8" fill="none" stroke="#e8e800" stroke-width="1.05" stroke-linejoin="round" />
<path d="M7 622.5 L16 624.5 L25 625.5 L34.1 625.4 L43.1 622.8 L52.1 619.8 L61.2 616.8 L70.2 618 L79.3 618.8 L88.3 621.4 L97.3 624.1 L106.4 627.4 L115.4 628.9 L124.5 630.4 L133.5 634 L142.5 634.7 L151.6 634.4 L160.6 634 L169.7 632.5 L178.7 629.5 L187.7 630 L196.8 631.4 L205.8 632.7 L214.9 637.2 L223.9 640.8 L232.9 639 L242 636.9 L251 634 L260.1 632.6 L269.1 629.9 L278.1 631.8 L287.2 633.3 L296.2 633.3 L305.3 633.6 L314.3 636 L323.3 639.2 L332.4 640.4 L341.4 644.3 L350.5 645.7 L359.5 646.5 L368.5 647.1 L377.6 648.6 L386.6 649.9 L395.7 651.8 L404.7 651 L413.7 645.9 L422.8 643 L431.8 640.2 L440.9 638 L449.9 639.1 L458.9 640.9 L468 641.5 L477 642.7 L486.1 638.9 L495.1 634.7 L504.1 631 L513.2 630.1 L522.2 629.8 L531.3 630.2 L540.3 632.5 L549.4 636.2 L558.4 634.3 L567.4 627.1 L576.5 624.7 L585.5 621.8 L594.5 619.9 L603.6 619.6 L612.6 625.3 L621.7 629.2 L630.7 628.6 L639.8 625.6 L648.8 624.7 L657.8 620.2 L666.9 619 L675.9 622 L684.9 629.2 L694 633.9 L703 637.3 L712.1 642.4 L721.1 645.4 L730.1 644.8 L739.2 645.6 L748.2 646.2 L757.3 644.3 L766.3 643 L775.4 643.3 L784.4 643.1 L793.4 646.3 L802.5 647.4 L811.5 648.2 L820.5 648.4 L829.6 649.3 L838.6 650.2 L847.7 651.3 L856.7 649.7 L865.8 649.2 L874.8 649.9 L883.8 650 L892.9 650 L901.9 652.3 L910.9 651 L920 648.7 L929 647.1 L938.1 643.6 L947.1 642.3 L956.1 644.6 L965.2 647.4 L974.2 647.4 L983.3 647.9 L992.3 649.1 L1001.3 648.2 L1010.4 643.6 L1019.4 643.5 L1028.5 643 L1037.5 644.1 L1046.5 642.7 L1055.6 643 L1064.6 644.3 L1073.7 647 L1082.7 647.6 L1091.8 650.9 L1100.8 649.1 L1109.8 645.5 L1118.9 645.1 L1127.9 642 L1137 637.8 L1146 640.9 L1155 640.9 L1164.1 631.6 L1173.1 627 L1182.1 627.3 L1191.2 626.6 L1200.2 629 L1209.3 638.9 L1218.3 643.3 L1227.3 643.6 L1236.4 639.4 L1245.4 630.7 L1254.5 620.5 L1263.5 618.1 L1272.5 613.4 L1281.6 616.4 L1290.6 624.8 L1299.7 626.6 L1308.7 614.4 L1317.8 609.4 L1326.8 603.7 L1335.8 594.3 L1344.9 594.1 L1353.9 601.9 L1362.9 607.6 L1372 613 L1381 615.5 L1390.1 622.3 L1399.1 628.3 L1408.1 628.9 L1417.2 627.7 L1426.2 633.1 L1435.3 625.2" fill="none" stroke="#f0f0f0" stroke-width="1.05" stroke-linejoin="round" />
<path d="M7 812.6 L16 821.7 L25 828 L34.1 835.4 L43.1 836.7 L52.1 833.8 L61.2 833.4 L70.2 835.3 L79.3 831.6 L88.3 825.7 L97.3 822.9 L106.4 819.1 L115.4 815.1 L124.5 808.6 L133.5 802.5 L142.5 795.3 L151.6 788.4 L160.6 783.1 L169.7 778.4 L178.7 778.4 L187.7 781.2 L196.8 781.5 L205.8 784.4 L214.9 792.2 L223.9 799.3 L232.9 799.6 L242 795.6 L251 795.8 L260.1 798.9 L269.1 808.9 L278.1 819.2 L287.2 829.2 L296.2 838 L305.3 843.5 L314.3 848 L323.3 851.7 L332.4 851.3 L341.4 848.9 L350.5 846.3 L359.5 846.1 L368.5 847.8 L377.6 845.6 L386.6 846.8 L395.7 849.3 L404.7 852.2 L413.7 854.8 L422.8 855.4 L431.8 857.4 L440.9 857.1 L449.9 856.6 L458.9 854.4 L468 852.9 L477 851.4 L486.1 842.4 L495.1 831.9 L504.1 820.4 L513.2 813.9 L522.2 814.9 L531.3 818.3 L540.3 817.1 L549.4 813.1 L558.4 811.7 L567.4 806 L576.5 799.3 L585.5 793.1 L594.5 787.2 L603.6 784.6 L612.6 786.5 L621.7 787.9 L630.7 787.6 L639.8 786.3 L648.8 785.2 L657.8 789.3 L666.9 797 L675.9 807.8 L684.9 818.4 L694 828.8 L703 836 L712.1 843 L721.1 848.8 L730.1 851 L739.2 853.2 L748.2 851.2 L757.3 845.9 L766.3 838.2 L775.4 828.7 L784.4 823.5 L793.4 823.1 L802.5 827.7 L811.5 831.6 L820.5 832.6 L829.6 833.9 L838.6 833.7 L847.7 833.2 L856.7 827.4 L865.8 818.4 L874.8 810.3 L883.8 806.4 L892.9 811.2 L901.9 815.8 L910.9 818.2 L920 822.9 L929 829.1 L938.1 835.1 L947.1 841.6 L956.1 846 L965.2 850.3 L974.2 851.5 L983.3 854 L992.3 856.5 L1001.3 855.7 L1010.4 852 L1019.4 846.1 L1028.5 834.3 L1037.5 822.9 L1046.5 812.3 L1055.6 806.1 L1064.6 801.1 L1073.7 804.4 L1082.7 812.7 L1091.8 821.4 L1100.8 830.2 L1109.8 836.1 L1118.9 841.4 L1127.9 846.6 L1137 849.9 L1146 853.6 L1155 852.6 L1164.1 844.8 L1173.1 835.4 L1182.1 826.5 L1191.2 820.1 L1200.2 816.2 L1209.3 814.9 L1218.3 814.2 L1227.3 812.5 L1236.4 810.8 L1245.4 804.7 L1254.5 798.8 L1263.5 793.8 L1272.5 789.9 L1281.6 788.4 L1290.6 788.7 L1299.7 785.9 L1308.7 782.8 L1317.8 781.4 L1326.8 778.4 L1335.8 776.6 L1344.9 776.7 L1353.9 782.8 L1362.9 789.8 L1372 797.5 L1381 808.3 L1390.1 819.3 L1399.1 827.8 L1408.1 831.7 L1417.2 835.9 L1426.2 837.2 L1435.3 830.4" fill="none" stroke="#e8e800" stroke-width="1.05" stroke-linejoin="round" />
<path d="M7 831.1 L16 839.8 L25 840.6 L34.1 850.2 L43.1 839.4 L52.1 827.9 L61.2 832.7 L70.2 839 L79.3 824.3 L88.3 814 L97.3 817.2 L106.4 811.4 L115.4 807.1 L124.5 795.6 L133.5 790.5 L142.5 780.9 L151.6 774.6 L160.6 772.6 L169.7 769 L178.7 778.4 L187.7 786.8 L196.8 782.1 L205.8 790.2 L214.9 807.6 L223.9 813.5 L232.9 800.4 L242 787.5 L251 796.2 L260.1 805.1 L269.1 828.9 L278.1 839.7 L287.2 849.3 L296.2 855.6 L305.3 854.4 L314.3 857.1 L323.3 859.1 L332.4 850.6 L341.4 844.1 L350.5 841.2 L359.5 845.5 L368.5 851.2 L377.6 841.3 L386.6 849 L395.7 854.3 L404.7 858.1 L413.7 859.8 L422.8 856.7 L431.8 861.2 L440.9 856.5 L449.9 855.6 L458.9 850.2 L468 849.8 L477 848.5 L486.1 824.3 L495.1 811 L504.1 797.4 L513.2 800.7 L522.2 816.9 L531.3 825.2 L540.3 814.7 L549.4 805.1 L558.4 809 L567.4 794.6 L576.5 785.9 L585.5 780.7 L594.5 775.2 L603.6 779.4 L612.6 790.4 L621.7 790.7 L630.7 786.8 L639.8 783.8 L648.8 783 L657.8 797.4 L666.9 812.5 L675.9 829.4 L684.9 839.5 L694 849.6 L703 850.3 L712.1 857.1 L721.1 860.4 L730.1 855.4 L739.2 857.7 L748.2 847.1 L757.3 835.5 L766.3 822.7 L775.4 809.6 L784.4 813.2 L793.4 822.4 L802.5 837 L811.5 839.4 L820.5 834.4 L829.6 836.5 L838.6 833.4 L847.7 832.1 L856.7 815.8 L865.8 800.4 L874.8 794.1 L883.8 798.5 L892.9 820.7 L901.9 825 L910.9 823 L920 832.2 L929 841.6 L938.1 847 L947.1 854.7 L956.1 854.9 L965.2 859 L974.2 853.7 L983.3 859 L992.3 861.6 L1001.3 854.1 L1010.4 844.6 L1019.4 834.4 L1028.5 810.8 L1037.5 800.1 L1046.5 791 L1055.6 793.8 L1064.6 791 L1073.7 811.1 L1082.7 829.4 L1091.8 838.8 L1100.8 847.7 L1109.8 847.8 L1118.9 852 L1127.9 857.1 L1137 856.6 L1146 861.1 L1155 850.5 L1164.1 829.2 L1173.1 816.5 L1182.1 808.9 L1191.2 807.2 L1200.2 808.3 L1209.3 812.3 L1218.3 812.8 L1227.3 809.3 L1236.4 807.3 L1245.4 792.5 L1254.5 787 L1263.5 783.6 L1272.5 782.3 L1281.6 785.3 L1290.6 789.4 L1299.7 780.2 L1308.7 776.7 L1317.8 778.6 L1326.8 772.2 L1335.8 773.2 L1344.9 776.9 L1353.9 794.9 L1362.9 803.8 L1372 812.8 L1381 830.1 L1390.1 841.3 L1399.1 844.9 L1408.1 839.5 L1417.2 844.3 L1426.2 839.6 L1435.3 816.9" fill="none" stroke="#f0f0f0" stroke-width="1.05" stroke-linejoin="round" />
<path d="M7 868.2 L16 876 L25 865.9 L34.1 879.9 L43.1 844.8 L52.1 816.1 L61.2 831.1 L70.2 846.4 L79.3 809.7 L88.3 790.6 L97.3 805.8 L106.4 796 L115.4 791.1 L124.5 769.7 L133.5 766.4 L142.5 752.1 L151.6 746.8 L160.6 751.5 L169.7 750.2 L178.7 778.5 L187.7 798 L196.8 783.3 L205.8 801.9 L214.9 838.6 L223.9 841.9 L232.9 801.9 L242 771.2 L251 797 L260.1 817.5 L269.1 869 L278.1 880.8 L287.2 889.5 L296.2 890.8 L305.3 876.3 L314.3 875.3 L323.3 873.9 L332.4 849 L341.4 834.5 L350.5 830.8 L359.5 844.5 L368.5 858.1 L377.6 832.7 L386.6 853.5 L395.7 864.4 L404.7 869.9 L413.7 869.9 L422.8 859.4 L431.8 869 L440.9 855.4 L449.9 853.5 L458.9 841.7 L468 843.6 L477 842.6 L486.1 788.1 L495.1 769.1 L504.1 751.4 L513.2 774.5 L522.2 820.8 L531.3 839 L540.3 809.9 L549.4 789 L558.4 803.6 L567.4 771.8 L576.5 759.1 L585.5 755.8 L594.5 751.4 L603.6 769.1 L612.6 798.1 L621.7 796.3 L630.7 785.4 L639.8 778.7 L648.8 778.7 L657.8 813.6 L666.9 843.6 L675.9 872.6 L684.9 881.7 L694 891.3 L703 879 L712.1 885.3 L721.1 883.5 L730.1 864.1 L739.2 866.6 L748.2 839 L757.3 814.5 L766.3 791.8 L775.4 771.4 L784.4 792.7 L793.4 820.8 L802.5 855.4 L811.5 855 L820.5 838.1 L829.6 841.7 L838.6 832.7 L847.7 829.9 L856.7 792.7 L865.8 764.5 L874.8 761.8 L883.8 782.7 L892.9 839.9 L901.9 843.6 L910.9 832.7 L920 850.8 L929 866.6 L938.1 870.8 L947.1 880.8 L956.1 872.6 L965.2 876.3 L974.2 858.1 L983.3 869 L992.3 871.7 L1001.3 850.8 L1010.4 829.9 L1019.4 810.9 L1028.5 763.6 L1037.5 754.5 L1046.5 748.5 L1055.6 769.1 L1064.6 770.9 L1073.7 824.5 L1082.7 862.6 L1091.8 873.5 L1100.8 882.6 L1109.8 871.4 L1118.9 873.2 L1127.9 878.1 L1137 869.9 L1146 875.9 L1155 846.3 L1164.1 798.1 L1173.1 778.7 L1182.1 773.6 L1191.2 781.4 L1200.2 792.7 L1209.3 807.2 L1218.3 809.9 L1227.3 802.7 L1236.4 800.3 L1245.4 768.2 L1254.5 763.4 L1263.5 763.4 L1272.5 767.1 L1281.6 779.1 L1290.6 790.9 L1299.7 768.7 L1308.7 764.5 L1317.8 773.1 L1326.8 760 L1335.8 766.3 L1344.9 777.2 L1353.9 819 L1362.9 831.7 L1372 843.6 L1381 873.5 L1390.1 885.3 L1399.1 879 L1408.1 855 L1417.2 861.2 L1426.2 844.5 L1435.3 790" fill="none" stroke="#f000f0" stroke-width="1.05" stroke-linejoin="round" />
<rect x="0" y="12" width="2.1" height="891" fill="#e6e6e6"/>
<rect x="2" y="540.5" width="1484" height="2" fill="#a80000"/>
<rect x="2" y="716" width="1466" height="2" fill="#a00000"/>
<rect x="1467" y="716.2" width="19" height="3.6" fill="#c00000"/>
<rect x="2" y="893.2" width="1484" height="2" fill="#a80000"/>
<rect x="1467.1" y="14" width="2" height="703" fill="#a80000"/>
<rect x="1467.1" y="717" width="3.8" height="177" fill="#c00000"/>
<rect x="1469" y="95" width="8" height="1.6" fill="#b00000"/>
<rect x="1469" y="129" width="3.2" height="1.6" fill="#b00000"/>
<rect x="1469" y="164.2" width="8" height="1.6" fill="#b00000"/>
<rect x="1469" y="198.2" width="3.2" height="1.6" fill="#b00000"/>
<rect x="1469" y="231.7" width="8" height="1.6" fill="#b00000"/>
<rect x="1469" y="265.7" width="3.2" height="1.6" fill="#b00000"/>
<rect x="1469" y="299.1" width="8" height="1.6" fill="#b00000"/>
<rect x="1469" y="333.1" width="3.2" height="1.6" fill="#b00000"/>
<rect x="1469" y="366.8" width="8" height="1.6" fill="#b00000"/>
<rect x="1469" y="400.8" width="3.2" height="1.6" fill="#b00000"/>
<rect x="1469" y="435.7" width="8" height="1.6" fill="#b00000"/>
<rect x="1469" y="469.7" width="3.2" height="1.6" fill="#b00000"/>
<rect x="1469" y="503" width="8" height="1.6" fill="#b00000"/>
<rect x="1469" y="590.4" width="8" height="1.6" fill="#b00000"/>
<rect x="1469" y="611.2" width="3.2" height="1.6" fill="#b00000"/>
<rect x="1469" y="632.2" width="8" height="1.6" fill="#b00000"/>
<rect x="1469" y="652.9" width="3.2" height="1.6" fill="#b00000"/>
<rect x="1469" y="672.8" width="8" height="1.6" fill="#b00000"/>
<rect x="1468" y="693.6" width="18" height="2" fill="#b00000"/>
<path d="M1472 698.5L1482.5 711.5M1482.5 698.5L1472 711.5" stroke="#e03030" stroke-width="1.5" fill="none"/>
<path d="M1484.3 703.5L1486 700.5" stroke="#e03030" stroke-width="1.5" fill="none"/>
<rect x="1484" y="756.5" width="2" height="1.6" fill="#b00000"/>
<rect x="113.1" y="894" width="1.6" height="9" fill="#b00000"/>
<rect x="311.7" y="894" width="1.6" height="9" fill="#b00000"/>
<rect x="492.6" y="894" width="1.6" height="9" fill="#b00000"/>
<rect x="691.6" y="894" width="1.6" height="9" fill="#b00000"/>
<rect x="900.4" y="894" width="1.6" height="9" fill="#b00000"/>
<rect x="1071.6" y="894" width="1.6" height="9" fill="#b00000"/>
<rect x="1235.1" y="894" width="1.6" height="9" fill="#b00000"/>
<rect x="1432.9" y="894" width="1.6" height="9" fill="#b00000"/>
<rect x="162.3" y="894" width="1.4" height="3.5" fill="#b00000"/>
<rect x="213.3" y="894" width="1.4" height="3.5" fill="#b00000"/>
<rect x="262.3" y="894" width="1.4" height="3.5" fill="#b00000"/>
<rect x="356.8" y="894" width="1.4" height="3.5" fill="#b00000"/>
<rect x="402.6" y="894" width="1.4" height="3.5" fill="#b00000"/>
<rect x="447.6" y="894" width="1.4" height="3.5" fill="#b00000"/>
<rect x="542" y="894" width="1.4" height="3.5" fill="#b00000"/>
<rect x="592.8" y="894" width="1.4" height="3.5" fill="#b00000"/>
<rect x="642.4" y="894" width="1.4" height="3.5" fill="#b00000"/>
<rect x="745.8" y="894" width="1.4" height="3.5" fill="#b00000"/>
<rect x="796.6" y="894" width="1.4" height="3.5" fill="#b00000"/>
<rect x="847.9" y="894" width="1.4" height="3.5" fill="#b00000"/>
<rect x="943.6" y="894" width="1.4" height="3.5" fill="#b00000"/>
<rect x="985.6" y="894" width="1.4" height="3.5" fill="#b00000"/>
<rect x="1029.9" y="894" width="1.4" height="3.5" fill="#b00000"/>
<rect x="1111.8" y="894" width="1.4" height="3.5" fill="#b00000"/>
<rect x="1154.1" y="894" width="1.4" height="3.5" fill="#b00000"/>
<rect x="1194.2" y="894" width="1.4" height="3.5" fill="#b00000"/>
<rect x="1284.3" y="894" width="1.4" height="3.5" fill="#b00000"/>
<rect x="1333.6" y="894" width="1.4" height="3.5" fill="#b00000"/>
<rect x="1383.1" y="894" width="1.4" height="3.5" fill="#b00000"/>
<g font-family="Liberation Sans, sans-serif" font-size="17.5" fill="#e02020">
<text x="117.4" y="911.8">5</text>
<text x="316" y="911.8">6</text>
<text x="496.9" y="911.8">7</text>
<text x="695.9" y="911.8">8</text>
<text x="904.7" y="911.8">9</text>
<text x="1075.9" y="911.8">10</text>
<text x="1239.4" y="911.8">11</text>
<text x="1437.2" y="911.8">12</text>
<text x="7" y="911.8">2018</text>
</g>
<text x="46.6" y="911.8" font-family="'Liberation Sans', 'Noto Sans CJK SC', sans-serif" font-size="17.5" fill="#e02020">年</text>
<path d="M1435.3 20.3L1443.3 28.3L1435.3 36.3L1427.3 28.3Z" fill="none" stroke="#b80000" stroke-width="1.5"/>
<rect x="1450.3" y="21.2" width="13.6" height="14.6" fill="none" stroke="#b80000" stroke-width="1.5"/>
<line x1="1459" y1="21" x2="1459" y2="36" stroke="#b80000" stroke-width="1.5"/>
<path d="M2 451.8L15 469.6V513L2 532.4Z" fill="#303030" fill-opacity="0.9" stroke="#606060" stroke-width="1.2"/>
<path d="M3.2 483.5L11 491L3.2 498.5Z" fill="#e8a000"/>
<path d="M250.8 44.7H257M251.5 44.7V50.5M257.5 47.2L268.8 51.2" stroke="#c8c8c8" stroke-width="1.1" fill="none"/>
<path d="M1154.5 509.5H1161M1155.2 509.5V516 M1161 515L1176 515" stroke="#c8c8c8" stroke-width="1.1" fill="none"/>
<g font-family="Liberation Sans, sans-serif" font-size="17.6">
<text x="210.51" y="33.3" textLength="39.64" lengthAdjust="spacingAndGlyphs" fill="#ffffff">MA5:</text>
<text x="255.43" y="33.3" textLength="65.16" lengthAdjust="spacingAndGlyphs" fill="#ffffff">1334.28</text>
<text x="329.00" y="33.3" textLength="49.25" lengthAdjust="spacingAndGlyphs" fill="#ffff00">MA10:</text>
<text x="383.52" y="33.3" textLength="65.69" lengthAdjust="spacingAndGlyphs" fill="#ffff00">1335.70</text>
<text x="458.10" y="33.3" textLength="49.36" lengthAdjust="spacingAndGlyphs" fill="#ff00ff">MA20:</text>
<text x="512.60" y="33.3" textLength="66.47" lengthAdjust="spacingAndGlyphs" fill="#ff00ff">1352.69</text>
<text x="587.06" y="33.3" textLength="60.33" lengthAdjust="spacingAndGlyphs" fill="#00e600">MA250:</text>
<text x="652.51" y="33.3" textLength="65.79" lengthAdjust="spacingAndGlyphs" fill="#00e600">1623.76</text>
<text x="270.39" y="58.5" textLength="66.93" lengthAdjust="spacingAndGlyphs" fill="#c0c0c0">1876.20</text>
<text x="1177.01" y="523.0" textLength="61.42" lengthAdjust="spacingAndGlyphs" fill="#c0c0c0">1184.91</text>
<text x="2.62" y="560.2" textLength="78.37" lengthAdjust="spacingAndGlyphs" fill="#ffffff">VOLUME:</text>
<text x="84.45" y="560.2" textLength="108.98" lengthAdjust="spacingAndGlyphs" fill="#ffffff">66019820.00</text>
<text x="201.25" y="560.2" textLength="41.26" lengthAdjust="spacingAndGlyphs" fill="#ffffff">MA5:</text>
<text x="245.66" y="560.2" textLength="107.76" lengthAdjust="spacingAndGlyphs" fill="#ffffff">53966276.00</text>
<text x="362.19" y="560.2" textLength="49.79" lengthAdjust="spacingAndGlyphs" fill="#ffff00">MA10:</text>
<text x="416.97" y="560.2" textLength="107.15" lengthAdjust="spacingAndGlyphs" fill="#ffff00">54958012.00</text>
<text x="2.41" y="735.6" textLength="86.61" lengthAdjust="spacingAndGlyphs" fill="#d0d0d0">KDJ(9,3,3)</text>
<text x="95.79" y="735.6" textLength="17.39" lengthAdjust="spacingAndGlyphs" fill="#ffffff">K:</text>
<text x="119.09" y="735.6" textLength="44.27" lengthAdjust="spacingAndGlyphs" fill="#ffffff">48.98</text>
<text x="171.80" y="735.6" textLength="18.27" lengthAdjust="spacingAndGlyphs" fill="#ffff00">D:</text>
<text x="195.76" y="735.6" textLength="41.96" lengthAdjust="spacingAndGlyphs" fill="#ffff00">36.51</text>
<text x="247.81" y="735.6" textLength="14.49" lengthAdjust="spacingAndGlyphs" fill="#ff00ff">J:</text>
<text x="267.18" y="735.6" textLength="44.92" lengthAdjust="spacingAndGlyphs" fill="#ff00ff">73.92</text>
</g>
<clipPath id="c1332"><rect x="1400" y="415" width="67" height="30"/></clipPath>
<g clip-path="url(#c1332)" font-family="Liberation Sans, sans-serif" font-size="17.6"><text x="1431.2" y="434.6" textLength="43.0" lengthAdjust="spacing" fill="#c0c0c0">1332</text></g>
<g font-family="'Liberation Sans', 'Noto Sans CJK SC', sans-serif" font-size="17.6" fill="#c8c8c8">
<text x="2.2" y="34" textLength="72.6" lengthAdjust="spacingAndGlyphs">创业板指</text>
<text x="82.2" y="34" textLength="35.2" lengthAdjust="spacingAndGlyphs">日线</text>
<text x="121.6" y="34" textLength="53.8" lengthAdjust="spacingAndGlyphs">前复权</text>
</g>
<g font-family="Liberation Sans, sans-serif" font-size="17.6" fill="#c8c8c8">
<text x="74.6" y="33.3">(</text><text x="116.8" y="33.3">.</text><text x="174.8" y="33.3">)</text>
</g>
<path d="M198.2 19L205.7 25.2v2.4H201.3V34.8H195.1V27.6H190.7v-2.4z" fill="#ff0000"/>
<defs><linearGradient id="tb" x1="0" y1="0" x2="0" y2="1"><stop offset="0" stop-color="#dedede"/><stop offset="0.6" stop-color="#cfcfcf"/><stop offset="0.8" stop-color="#c4c4c4"/><stop offset="0.88" stop-color="#8a8a8a"/><stop offset="0.96" stop-color="#262626"/><stop offset="1" stop-color="#000"/></linearGradient></defs>
<rect x="0" y="0" width="1486" height="14.1" fill="url(#tb)"/>
<rect x="2.5" y="0" width="24.5" height="4.6" fill="#ffffff"/>
<path d="M9.5 0L12.5 2.6" stroke="#f07070" stroke-width="1"/>
<rect x="580.8" y="-2" width="57.5" height="13.2" fill="#e2e2e2"/>
<rect x="580.8" y="0" width="1.2" height="11.2" fill="#f6f6f6"/><rect x="637.1" y="0" width="1.2" height="11.2" fill="#f6f6f6"/>
<rect x="648.6" y="-2" width="57.6" height="13.2" fill="#e2e2e2"/>
<rect x="648.6" y="0" width="1.2" height="11.2" fill="#f6f6f6"/><rect x="705" y="0" width="1.2" height="11.2" fill="#f6f6f6"/>
<rect x="92" y="0" width="1" height="11" fill="#e8e8e8" opacity="0.6"/>
<rect x="157" y="0" width="1" height="11" fill="#e8e8e8" opacity="0.6"/>
<clipPath id="tbc"><rect x="0" y="0" width="1486" height="11"/></clipPath>
<g clip-path="url(#tbc)">
<g font-family="'Liberation Sans', 'Noto Sans CJK SC', sans-serif" font-size="17.2" fill="#101010">
<text x="40.8" y="2.6" textLength="35" lengthAdjust="spacingAndGlyphs">系统</text>
<text x="105.8" y="2.6" textLength="35.6" lengthAdjust="spacingAndGlyphs">功能</text>
<text x="171.6" y="2.6" textLength="36" lengthAdjust="spacingAndGlyphs">报价</text>
<text x="236.4" y="2.6" textLength="35.6" lengthAdjust="spacingAndGlyphs">分析</text>
<text x="291.8" y="2.6" textLength="72" lengthAdjust="spacingAndGlyphs">扩展行情</text>
<text x="384.6" y="2.6" textLength="35.6" lengthAdjust="spacingAndGlyphs">资讯</text>
<text x="450" y="2.6" textLength="35.4" lengthAdjust="spacingAndGlyphs">工具</text>
<text x="513.6" y="2.6" textLength="35" lengthAdjust="spacingAndGlyphs">帮助</text>
</g>
<g font-family="'Liberation Sans', 'Noto Sans CJK SC', sans-serif" font-size="17.2" fill="#f01010">
<text x="590.8" y="1.7" textLength="35.8" lengthAdjust="spacingAndGlyphs">期权</text>
<text x="657.2" y="1.7" textLength="35.8" lengthAdjust="spacingAndGlyphs">发现</text>
</g>
<g font-family="'Liberation Sans', 'Noto Sans CJK SC', sans-serif" font-size="16.6" fill="#101010">
<text x="990.6" y="2.3" textLength="122" lengthAdjust="spacingAndGlyphs">证券交易体验系</text>
<text x="1133.6" y="2.3" textLength="70" lengthAdjust="spacingAndGlyphs">创业板指</text>
</g>
</g></svg>
</body></html>
